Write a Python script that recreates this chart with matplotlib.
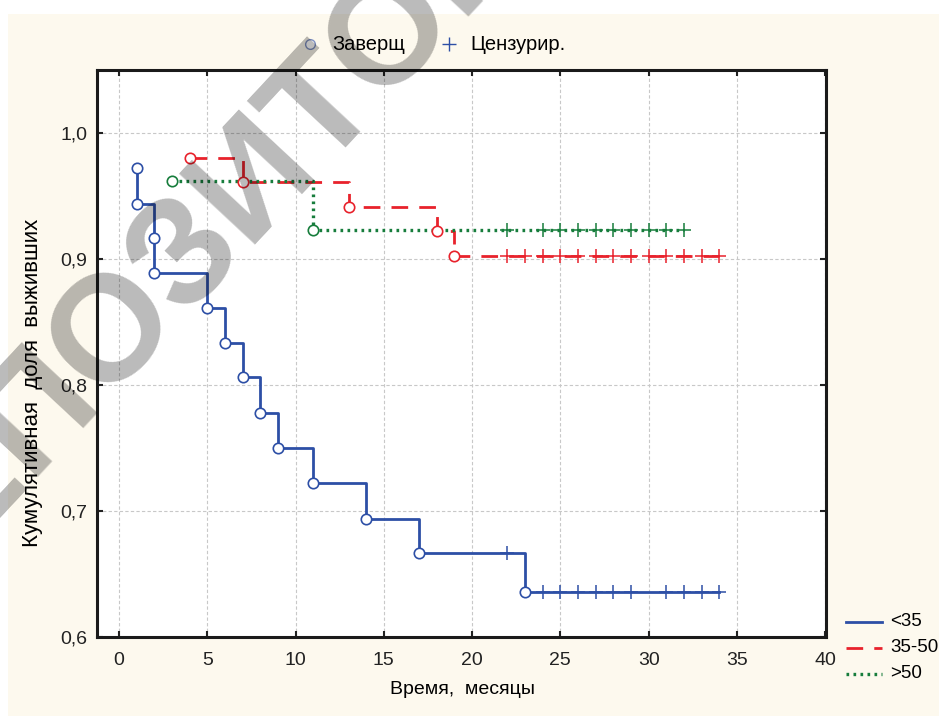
import matplotlib.pyplot as plt
from matplotlib.lines import Line2D
from matplotlib.patches import Rectangle
import numpy as np

plt.rcParams['font.family'] = ['Liberation Sans', 'DejaVu Sans']

# event times / survival values (open circles)
blue_t = [1, 1, 2, 2, 5, 6, 7, 8, 9, 11, 14, 17, 23]
blue_s = [0.972, 0.944, 0.917, 0.889, 0.861, 0.833, 0.806, 0.778, 0.750, 0.722, 0.694, 0.667, 0.636]
blue_cens = [22, 24, 25, 26, 27, 28, 29, 31, 32, 33, 34]

red_t = [4, 7, 13, 18, 19]
red_s = [0.980, 0.961, 0.941, 0.922, 0.902]
red_cens = [22, 23, 24, 25, 26, 27, 28, 29, 30, 31, 32, 33, 34]

green_t = [3, 11]
green_s = [0.962, 0.923]
green_cens = [22, 24, 25, 26, 27, 28, 29, 30, 31, 32]

groups = ['<35', '35-50', '>50']
xticks = [0, 5, 10, 15, 20, 25, 30, 35, 40]
yticks = [0.6, 0.7, 0.8, 0.9, 1.0]

BLUE = '#2d4fa6'
RED = '#e8222c'
GREEN = '#177d3c'
CREAM = '#fdf9ee'

W, H = 939, 716
fig = plt.figure(figsize=(W / 100, H / 100), dpi=100, facecolor='white')
fig.add_artist(Rectangle((8 / W, 0), 1, 1 - 14 / H, transform=fig.transFigure,
                         facecolor=CREAM, edgecolor='none', zorder=0))

ax = fig.add_axes([97 / W, 1 - 637 / H, (826 - 97) / W, (637 - 70) / H])
ax.set_facecolor('white')


def step_value(times, vals, t):
    v = vals[0]
    for ti, vi in zip(times, vals):
        if ti <= t:
            v = vi
    return v


series = [(blue_t, blue_s, blue_cens, BLUE, '-', None),
          (red_t, red_s, red_cens, RED, '--', (6, 4)),
          (green_t, green_s, green_cens, GREEN, ':', (0.8, 1.3))]

for t, s, cens, col, ls, dash in series:
    xs = list(t) + [max(cens)]
    ys = list(s) + [s[-1]]
    line, = ax.step(xs, ys, where='post', color=col, lw=2 if ls != ':' else 2.4,
                    linestyle=ls, zorder=3)
    if dash:
        line.set_dashes(dash)
    cy = [step_value(t, s, c) for c in cens]
    ax.plot(cens, cy, linestyle='none', marker='+', ms=10, mew=1.1, color=col, zorder=4)
    ax.plot(t, s, linestyle='none', marker='o', ms=7.5, mew=1.2, mec=col, mfc='white', zorder=5)

ax.set_xlim(-1.25, 40.05)
ax.set_ylim(0.6, 1.05)
ax.set_xticks(xticks)
ax.set_yticks(yticks)
ax.set_yticklabels([f'{v:.1f}'.replace('.', ',') for v in yticks])
ax.grid(True, color='#c8c8c8', linestyle=(0, (3, 2)), linewidth=0.8)
ax.set_axisbelow(True)
ax.tick_params(direction='in', length=4, width=1.5, top=True, right=True,
               labelsize=14, colors='#222222')
ax.tick_params(axis='x', pad=11)
ax.tick_params(axis='y', pad=7)
for sp in ax.spines.values():
    sp.set_linewidth(2.2)
    sp.set_color('#1a1a1a')

fig.text(462 / W, 1 - 690 / H, 'Время,  месяцы', ha='center', va='center', fontsize=14)
fig.text(33 / W, 1 - 383 / H, 'Кумулятивная  доля  выживших', ha='center', va='center',
         rotation=90, fontsize=16)

# top legend
fig.add_artist(Line2D([310 / W], [1 - 44 / H], marker='o', ms=7, mew=1, mec='#8090c0',
                      mfc='white', transform=fig.transFigure))
fig.text(332 / W, 1 - 44 / H, 'Заверщ', ha='left', va='center', fontsize=14.5)
fig.add_artist(Line2D([449 / W], [1 - 44 / H], marker='+', ms=10, mew=1, color=BLUE,
                      transform=fig.transFigure))
fig.text(470 / W, 1 - 44 / H, 'Цензурир.', ha='left', va='center', fontsize=14.5)

# right legend
for k, (name, (_, _, _, col, ls, dash)) in enumerate(zip(groups, series)):
    yy = 1 - (622 + 26 * k) / H
    ln = Line2D([846 / W, 882 / W], [yy, yy], color=col, lw=2 if ls != ':' else 2.4,
                linestyle=ls, transform=fig.transFigure)
    if dash:
        ln.set_dashes(dash)
    fig.add_artist(ln)
    fig.text(890 / W, yy, name, ha='left', va='center', fontsize=13.5)

# watermark
fig.text(255 / W, 1 - 178 / H, 'РЕПОЗИТОРИЙ', ha='center', va='center', rotation=47,
         rotation_mode='anchor', fontsize=108, fontweight='bold', color='black',
         alpha=0.27, zorder=10)

fig.savefig('out.png', dpi=100, facecolor='white')
